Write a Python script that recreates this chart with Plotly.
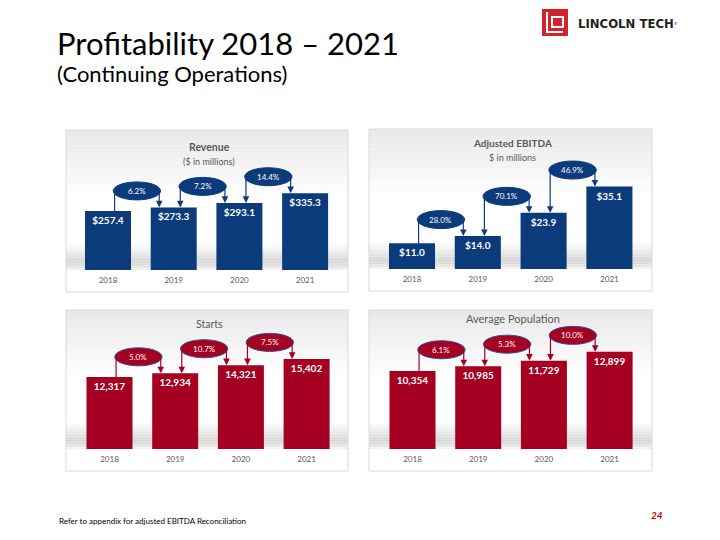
import plotly.graph_objects as go

# ---------------- data ----------------
years = ["2018", "2019", "2020", "2021"]

revenue = [257.4, 273.3, 293.1, 335.3]
revenue_labels = ["$257.4", "$273.3", "$293.1", "$335.3"]
revenue_growth = ["6.2%", "7.2%", "14.4%"]

ebitda = [11.0, 14.0, 23.9, 35.1]
ebitda_labels = ["$11.0", "$14.0", "$23.9", "$35.1"]
ebitda_growth = ["28.0%", "70.1%", "46.9%"]

starts = [12317, 12934, 14321, 15402]
starts_labels = ["12,317", "12,934", "14,321", "15,402"]
starts_growth = ["5.0%", "10.7%", "7.5%"]

population = [10354, 10985, 11729, 12899]
population_labels = ["10,354", "10,985", "11,729", "12,899"]
population_growth = ["6.1%", "5.3%", "10.0%"]

# ---------------- layout helpers ----------------
W, H = 720, 540
FONT = "Lato, 'Open Sans', sans-serif"
BLUE = "#0B3B7B"
RED = "#A50021"
GRAY_TXT = "#595959"


def px(x):
    return x / W


def py(y):
    return 1 - y / H


panels = [
    dict(vals=revenue, labels=revenue_labels, growth=revenue_growth,
         box=(66, 130, 348, 292), base=270, scale=0.229, c0=108, step=65.7,
         color=BLUE, outline=BLUE,
         title="<b>Revenue</b>", title_y=147, title_size=10.5,
         sub="($ in millions)", sub_y=161),
    dict(vals=ebitda, labels=ebitda_labels, growth=ebitda_growth,
         box=(369, 129, 652, 291), base=269, scale=2.35, c0=412, step=65.8,
         color=BLUE, outline=BLUE,
         title="<b>Adjusted EBITDA</b>", title_y=143, title_size=10,
         sub="$ in millions", sub_y=157),
    dict(vals=starts, labels=starts_labels, growth=starts_growth,
         box=(66, 310, 348, 471), base=449, scale=0.00585, c0=109.5, step=65.7,
         color=RED, outline="#2F4F8F",
         title="Starts", title_y=324, title_size=10.5,
         sub=None, sub_y=None),
    dict(vals=population, labels=population_labels, growth=population_growth,
         box=(369, 310, 652, 471), base=449, scale=0.00753, c0=412.5, step=65.7,
         color=RED, outline="#2F4F8F",
         title="Average Population", title_y=318, title_size=11,
         sub=None, sub_y=None),
]


def mix(c1, c2, t):
    t = max(0.0, min(1.0, t))
    a = [int(c1[i:i + 2], 16) for i in (1, 3, 5)]
    b = [int(c2[i:i + 2], 16) for i in (1, 3, 5)]
    return "#" + "".join(f"{round(a[k] + (b[k] - a[k]) * t):02x}" for k in range(3))


fig = go.Figure()
shapes = []
annotations = []

for k, p in enumerate(panels, start=1):
    xa = "x" if k == 1 else f"x{k}"
    ya = "y" if k == 1 else f"y{k}"
    L, T, R, B = p["box"]
    base, scale, c0, step = p["base"], p["scale"], p["c0"], p["step"]

    fig.add_trace(go.Bar(
        x=list(range(len(years))), y=p["vals"], width=0.7,
        marker=dict(color=p["color"], line=dict(width=0)),
        text=p["labels"], textposition="inside", insidetextanchor="end",
        textangle=0, constraintext="none",
        textfont=dict(color="white", size=10, family=FONT, weight="bold"),
        xaxis=xa, yaxis=ya, hoverinfo="skip", showlegend=False,
    ))

    fig.layout[("xaxis" if k == 1 else f"xaxis{k}")] = dict(
        domain=[px(L), px(R)], anchor=ya,
        range=[(L - c0) / step, (R - c0) / step],
        tickvals=list(range(len(years))), ticktext=years,
        tickfont=dict(size=8, color=GRAY_TXT, family=FONT),
        showgrid=False, zeroline=False, showline=False, ticks="",
        ticklabelstandoff=4, fixedrange=True,
    )
    fig.layout[("yaxis" if k == 1 else f"yaxis{k}")] = dict(
        domain=[py(base), py(T)], anchor=xa,
        range=[0, (base - T) / scale],
        visible=False, showgrid=False, zeroline=False, fixedrange=True,
    )

    # panel background gradients
    n = 18
    top_h = 70
    for j in range(n):
        y0 = T + top_h * j / n
        y1 = T + top_h * (j + 1) / n
        shapes.append(dict(type="rect", xref="paper", yref="paper", layer="below",
                           x0=px(L), x1=px(R), y0=py(y1), y1=py(y0),
                           fillcolor=mix("#E8E8E8", "#FFFFFF", j / (n - 1)),
                           line=dict(width=0)))
    band = 28
    for j in range(n):
        y0 = base - band + band * j / n
        y1 = base - band + band * (j + 1) / n
        t = j / (n - 1)
        col = mix("#FFFFFF", "#D4D4D4", t / 0.75) if t < 0.75 else mix("#D4D4D4", "#F0F0F0", (t - 0.75) / 0.25)
        shapes.append(dict(type="rect", xref="paper", yref="paper", layer="below",
                           x0=px(L), x1=px(R), y0=py(y1), y1=py(y0),
                           fillcolor=col, line=dict(width=0)))
    # panel border
    shapes.append(dict(type="rect", xref="paper", yref="paper", layer="above",
                       x0=px(L), x1=px(R), y0=py(B), y1=py(T),
                       fillcolor="rgba(0,0,0,0)", line=dict(color="#D9D9D9", width=1)))

    # panel titles
    cxp = (L + R) / 2 + 2
    annotations.append(dict(xref="paper", yref="paper", x=px(cxp), y=py(p["title_y"]),
                            text=p["title"], showarrow=False, xanchor="center", yanchor="middle",
                            font=dict(size=p["title_size"], color=GRAY_TXT, family=FONT)))
    if p["sub"]:
        annotations.append(dict(xref="paper", yref="paper", x=px(cxp), y=py(p["sub_y"]),
                                text=p["sub"], showarrow=False, xanchor="center", yanchor="middle",
                                font=dict(size=9, color=GRAY_TXT, family=FONT)))

    # growth callouts
    v = p["vals"]
    half_h = 9.0 / scale
    for i, g in enumerate(p["growth"]):
        cx = i + 0.44
        yc = max(v[i], v[i + 1]) + 16.5 / scale
        shapes.append(dict(type="circle", xref=xa, yref=ya, layer="above",
                           x0=cx - 0.36, x1=cx + 0.36, y0=yc - half_h, y1=yc + half_h,
                           fillcolor=p["color"], line=dict(color=p["outline"], width=1)))
        annotations.append(dict(xref=xa, yref=ya, x=cx, y=yc, text=g, showarrow=False,
                                font=dict(size=8, color="white", family=FONT)))
        xl, xr = cx - 0.34, cx + 0.34
        if i == 0:
            shapes.append(dict(type="line", xref=xa, yref=ya, layer="above",
                               x0=xl, x1=xl, y0=v[i], y1=yc,
                               line=dict(color=p["color"], width=1.2)))
        else:
            annotations.append(dict(xref=xa, yref=ya, axref=xa, ayref=ya,
                                    x=xl, y=v[i], ax=xl, ay=yc, text=" ",
                                    showarrow=True, arrowhead=2, arrowsize=1.1,
                                    arrowwidth=1.2, arrowcolor=p["color"], standoff=0,
                                    font=dict(size=1)))
        annotations.append(dict(xref=xa, yref=ya, axref=xa, ayref=ya,
                                x=xr, y=v[i + 1], ax=xr, ay=yc, text=" ",
                                showarrow=True, arrowhead=2, arrowsize=1.1,
                                arrowwidth=1.2, arrowcolor=p["color"], standoff=0,
                                font=dict(size=1)))

# ---------------- page header / footer ----------------
annotations.append(dict(xref="paper", yref="paper", x=px(55), y=py(43),
                        text="Profitability 2018 – 2021", showarrow=False,
                        xanchor="left", yanchor="middle",
                        font=dict(size=31, color="#000000", family=FONT)))
annotations.append(dict(xref="paper", yref="paper", x=px(55), y=py(73),
                        text="(Continuing Operations)", showarrow=False,
                        xanchor="left", yanchor="middle",
                        font=dict(size=22, color="#000000", family=FONT)))
annotations.append(dict(xref="paper", yref="paper", x=px(57), y=py(521),
                        text="Refer to appendix for adjusted EBITDA Reconciliation", showarrow=False,
                        xanchor="left", yanchor="middle",
                        font=dict(size=8, color="#000000", family=FONT)))
annotations.append(dict(xref="paper", yref="paper", x=px(657), y=py(515),
                        text="<b><i>24</i></b>", showarrow=False,
                        xanchor="center", yanchor="middle",
                        font=dict(size=10, color="#C00000", family=FONT)))

# logo
shapes.append(dict(type="rect", xref="paper", yref="paper",
                   x0=px(542), x1=px(568), y0=py(36), y1=py(9),
                   fillcolor="#D2232A", line=dict(width=0)))
shapes.append(dict(type="path", xref="paper", yref="paper",
                   path=f"M {px(547)},{py(12)} L {px(547)},{py(32)} L {px(563)},{py(32)}",
                   line=dict(color="white", width=2)))
shapes.append(dict(type="path", xref="paper", yref="paper",
                   path=f"M {px(552)},{py(17)} L {px(563)},{py(17)} L {px(563)},{py(27)} L {px(552)},{py(27)} Z",
                   line=dict(color="white", width=2)))
annotations.append(dict(xref="paper", yref="paper", x=px(576), y=py(23),
                        text="<b>LINCOLN TECH</b><span style='font-size:6px'><sup>®</sup></span>",
                        showarrow=False, xanchor="left", yanchor="middle",
                        font=dict(size=13, color="#231F20",
                                  family="'Liberation Sans Narrow', 'DejaVu Sans Condensed', Roboto, sans-serif")))

fig.update_layout(
    width=W, height=H,
    margin=dict(l=0, r=0, t=0, b=0),
    paper_bgcolor="white", plot_bgcolor="rgba(0,0,0,0)",
    showlegend=False, bargap=0.3,
    shapes=shapes, annotations=annotations,
    font=dict(family=FONT),
)

fig.write_html("out.html", config={"displayModeBar": False, "staticPlot": True},
               post_script="document.body.style.margin='0';document.body.style.padding='0';")
